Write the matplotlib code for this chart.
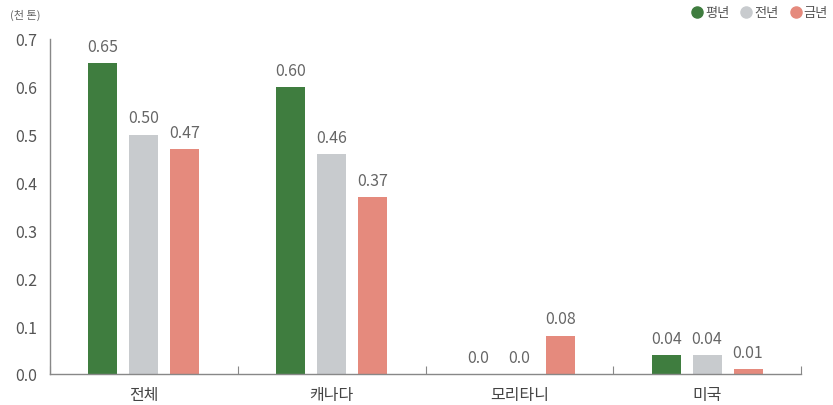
import numpy as np
import matplotlib.pyplot as plt
from matplotlib.lines import Line2D

plt.rcParams['font.family'] = ['Noto Sans CJK KR', 'DejaVu Sans']

categories = ['전체', '캐나다', '모리타니', '미국']
series_names = ['평년', '전년', '금년']
avg_year = [0.65, 0.60, 0.0, 0.04]
last_year = [0.50, 0.46, 0.0, 0.04]
this_year = [0.47, 0.37, 0.08, 0.01]
yticks = [0.0, 0.1, 0.2, 0.3, 0.4, 0.5, 0.6, 0.7]

colors = ['#3f7d3f', '#c8cbce', '#e58a7d']
series = [avg_year, last_year, this_year]

fig = plt.figure(figsize=(8.33, 4.06), dpi=100)
ax = fig.add_axes([50 / 833, 31 / 406, 751 / 833, 335 / 406])

x = np.arange(len(categories))
width = 0.155
offset = 0.218
for i, (vals, col) in enumerate(zip(series, colors)):
    pos = x + (i - 1) * offset
    ax.bar(pos, vals, width=width, color=col)
    for p, v in zip(pos, vals):
        label = '0.0' if v == 0 else f'{v:.2f}'
        ax.annotate(label, (p, v), xytext=(0, 6), textcoords='offset points',
                    ha='center', va='bottom', fontsize=11.5, color='#666666')

ax.set_xlim(-0.5, 3.5)
ax.set_ylim(0, 0.7)
ax.set_yticks(yticks)
ax.set_yticklabels([f'{t:.1f}' for t in yticks])
ax.tick_params(axis='y', length=0, pad=9, labelsize=11.5, labelcolor='#555555')

# boundaries as major ticks, names on minor ticks
ax.set_xticks(np.arange(-0.5, 4.0, 1.0))
ax.set_xticklabels([])
ax.tick_params(axis='x', which='major', direction='in', length=6, color='#888888')
ax.set_xticks(x, minor=True)
ax.set_xticklabels(categories, minor=True)
ax.tick_params(axis='x', which='minor', length=0, pad=9, labelsize=11.5, labelcolor='#444444')

for s in ['top', 'right']:
    ax.spines[s].set_visible(False)
for s in ['left', 'bottom']:
    ax.spines[s].set_color('#888888')
    ax.spines[s].set_linewidth(1)

fig.text(10 / 833, 1 - 15 / 406, '(천 톤)', fontsize=8, color='#666666', va='center')

handles = [Line2D([], [], marker='o', linestyle='', markersize=8, color=c) for c in colors]
fig.legend(handles, series_names, loc='center right', bbox_to_anchor=(1.0, 1 - 14 / 406),
           ncol=3, frameon=False, fontsize=9.5, handletextpad=0.1, columnspacing=0.8,
           borderaxespad=0, handlelength=1.0, labelcolor='#555555')

fig.savefig('out.png', dpi=100)
